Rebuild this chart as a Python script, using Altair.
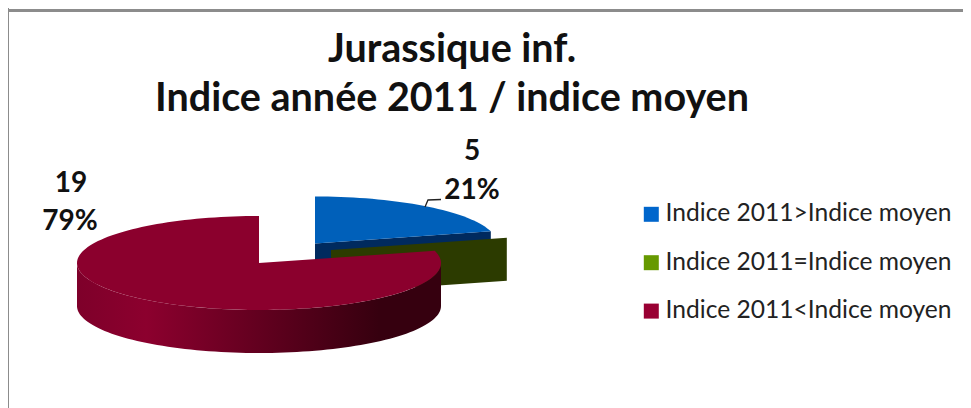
import math
import altair as alt
import pandas as pd

# ---- values
categories = ["Indice 2011>Indice moyen", "Indice 2011=Indice moyen", "Indice 2011<Indice moyen"]
counts = [5, 0, 19]
legend_colors = ["#0066CC", "#669900", "#990033"]
title_lines = ["Jurassique inf.", "Indice année 2011 / indice moyen"]

# ---- layout (page pixels)
W, H = 955, 400
RX, RY, DEPTH = 182, 47, 43
FONT = "Lato"
total = sum(counts)
cum = [sum(counts[:i]) / total * 360 for i in range(len(counts) + 1)]


def rim(c, a, b):
    n = max(2, int(abs(b - a) / 2))
    return [(c[0] + RX * math.sin(math.radians(a + (b - a) * i / n)),
             c[1] - RY * math.cos(math.radians(a + (b - a) * i / n))) for i in range(n + 1)]


def poly(pts):
    return pd.DataFrame({"x": [p[0] for p in pts], "y": [p[1] for p in pts], "o": range(len(pts))})


X = alt.X("x:Q", scale=alt.Scale(domain=[8, 8 + W], nice=False, zero=False), axis=None)
Y = alt.Y("y:Q", scale=alt.Scale(domain=[8 + H, 8], nice=False, zero=False), axis=None)


def shape(pts, fill):
    return alt.Chart(poly(pts)).mark_line(fill=fill, strokeWidth=0, stroke=None, interpolate="linear-closed").encode(
        x=X, y=Y, order="o:Q")


def cut_face(c, a, fill):
    tip = rim(c, a, a)[0]
    return shape([c, tip, (tip[0], tip[1] + DEPTH), (c[0], c[1] + DEPTH)], fill)


c_blue, c_green, c_red = (315, 243.5), (331, 250), (259, 263)

blue_wall = cut_face(c_blue, cum[1], "#002A5E")
blue_top = shape([c_blue] + rim(c_blue, cum[0], cum[1]), "#0060BA")
green_wall = cut_face(c_green, cum[2], "#2C3B00")

arc_front = rim(c_red, 90, 270)
red_wall = shape(arc_front + [(x, y + DEPTH) for x, y in reversed(arc_front)],
                 alt.Gradient(gradient="linear", x1=0, x2=1, y1=0, y2=0, stops=[
                     alt.GradientStop(offset=0, color="#7E002A"),
                     alt.GradientStop(offset=0.19, color="#8C002E"),
                     alt.GradientStop(offset=0.83, color="#36000F"),
                     alt.GradientStop(offset=1, color="#36000F"),
                 ]))
red_top = shape([c_red] + rim(c_red, cum[2], cum[3]), "#8B002D")

leader = alt.Chart(poly([(425, 207), (428, 200), (441, 199.5)])).mark_line(
    color="#222222", strokeWidth=1.3).encode(x=X, y=Y, order="o:Q")

left_rule = alt.Chart(pd.DataFrame({"a": [0]})).mark_rule(color="#8C8C8C", strokeWidth=3).encode(
    x=alt.value(-0.5), y=alt.value(0), y2=alt.value(H))
top_rule = alt.Chart(pd.DataFrame({"a": [0]})).mark_rule(color="#8C8C8C", strokeWidth=3).encode(
    y=alt.value(2.5), x=alt.value(0), x2=alt.value(W))


def label(text, px, py):
    return alt.Chart(pd.DataFrame({"t": [text]})).mark_text(
        font=FONT, fontSize=28, fontWeight="bold", color="#111111", align="center", baseline="alphabetic"
    ).encode(x=alt.value(px - 8), y=alt.value(py - 8), text="t:N")


def pct(v):
    return f"{round(v / total * 100)}%"


labels = (label(str(counts[0]), 472, 160) + label(pct(counts[0]), 472, 199)
          + label(str(counts[2]), 71, 192) + label(pct(counts[2]), 70, 230))

legend_df = pd.DataFrame({"c": categories})
legend_layer = alt.Chart(legend_df).mark_square(size=0, opacity=0).encode(
    color=alt.Color("c:N",
                    scale=alt.Scale(domain=categories, range=legend_colors),
                    sort=categories,
                    legend=alt.Legend(title=None, orient="none", legendX=631, legendY=194,
                                      symbolType="square", symbolSize=225, symbolOpacity=1,
                                      symbolStrokeWidth=0, labelFont=FONT, labelFontSize=24.6,
                                      labelColor="#222222", labelLimit=320, rowPadding=23.4,
                                      labelOffset=2)))

chart = alt.layer(
    left_rule, top_rule, blue_wall, blue_top, green_wall, red_wall, red_top, leader, labels, legend_layer
).properties(
    width=W, height=H, padding=0,
    autosize=alt.AutoSizeParams(type="none"),
    background="white",
    title=alt.TitleParams(text=title_lines, font=FONT, fontSize=39.5, fontWeight="bold", color="#111111",
                          anchor="middle", frame="group", dx=-33.5, dy=113, lineHeight=49, offset=0),
).configure_view(stroke=None)

chart.save("out.html", embed_options={"renderer": "svg", "actions": False})
